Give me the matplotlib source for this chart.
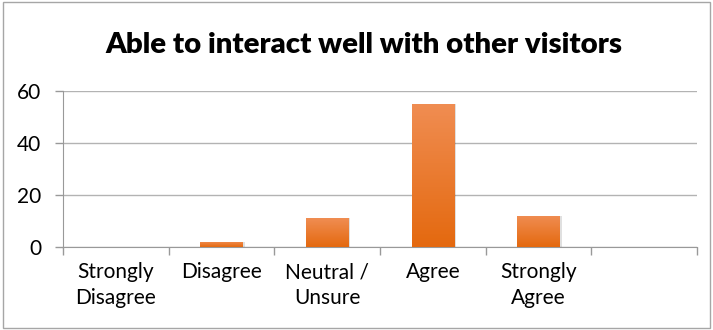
import matplotlib
matplotlib.use("Agg")
import matplotlib.pyplot as plt
import numpy as np
from matplotlib.colors import LinearSegmentedColormap
from matplotlib.patches import Rectangle

categories = ["Strongly\nDisagree", "Disagree", "Neutral /\nUnsure", "Agree", "Strongly\nAgree", ""]
values = [0, 2, 11, 55, 12, None]
y_ticks = [0, 20, 40, 60]
title = "Able to interact well with other visitors"

plt.rcParams['font.family'] = ['Lato', 'DejaVu Sans']

fig = plt.figure(figsize=(7.13, 3.30), dpi=100)
fig.patches.append(Rectangle((0.004, 0.006), 0.992, 0.988, transform=fig.transFigure,
                             fill=False, edgecolor="#a6a6a6", linewidth=1.0))
ax = fig.add_axes([0.0884, 0.252, 0.889, 0.473])

grad = LinearSegmentedColormap.from_list("bar", ["#e4690f", "#f08d52"])
bar_w = 0.40
x = np.arange(len(categories))
for xi, v in zip(x, values):
    if not v:
        continue
    # soft shadow behind the bar
    ax.add_patch(Rectangle((xi - bar_w / 2 + 0.02, 0), bar_w, v, facecolor="#000000",
                           alpha=0.12, edgecolor="none", zorder=2))
    rect = Rectangle((xi - bar_w / 2, 0), bar_w, v, facecolor="none", edgecolor="none", zorder=3)
    ax.add_patch(rect)
    img = ax.imshow(np.linspace(0, 1, 100).reshape(-1, 1), cmap=grad, aspect="auto",
                    extent=(xi - bar_w / 2, xi + bar_w / 2, 0, v), origin="lower", zorder=3)
    img.set_clip_path(rect)

ax.set_xlim(-0.5, len(categories) - 0.5)
ax.set_ylim(0, 60)
ax.set_yticks(y_ticks)
ax.set_yticklabels([str(t) for t in y_ticks], fontsize=15, color="#000000")
ax.yaxis.grid(True, color="#b3b3b3", linewidth=1.0)
ax.set_axisbelow(True)

ax.set_xticks(x)
ax.set_xticklabels(categories, fontsize=15, color="#000000", linespacing=1.38)
ax.tick_params(axis="x", length=0, pad=11)
ax.set_xticks(np.arange(-0.5, len(categories)), minor=True)
ax.tick_params(axis="x", which="minor", length=5.5, color="#999999", width=1.0)
ax.tick_params(axis="y", length=5.5, color="#999999", width=1.0, pad=10)

for side in ["top", "right"]:
    ax.spines[side].set_visible(False)
ax.spines["left"].set_color("#999999")
ax.spines["bottom"].set_color("#999999")

fig.text(0.51, 0.839, title, ha="center", va="baseline", fontsize=21.2, fontweight="heavy",
         color="#000000")

fig.savefig("out.png", dpi=100)
